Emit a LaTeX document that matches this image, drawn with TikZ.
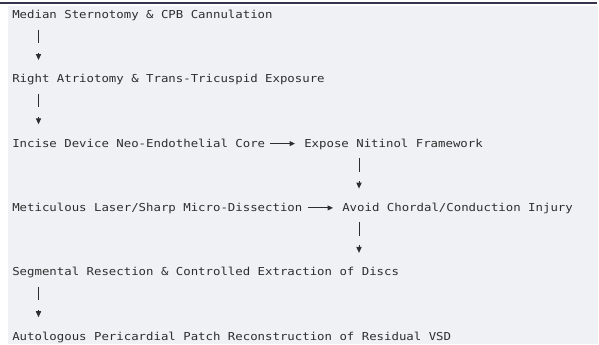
\documentclass[tikz,border=0pt]{standalone}
\usepackage{fontspec}
\usepackage{tikz}
\usetikzlibrary{arrows.meta,calc}
\newfontfamily\flowfont[FakeStretch=1.13]{DejaVu Sans Mono}
\definecolor{paper}{HTML}{F0F1F5}
\definecolor{rule}{HTML}{34344F}
\definecolor{txt}{HTML}{2E2E2E}
\tikzset{
  stp/.style   ={font=\flowfont\fontsize{8.2pt}{10pt}\selectfont, text=txt,
                 inner sep=0pt, text height=6pt, text depth=0.75pt,
                 anchor=base west},
  vflow/.style ={draw=txt, line width=0.75pt, shorten >=12.75pt,
                 postaction={draw=txt, shorten >=0pt, shorten <=17.25pt,
                 -{Triangle[length=4.5pt,width=3.9pt]}}},
  hflow/.style ={draw=txt, line width=0.75pt, shorten <=3.75pt, shorten >=6.75pt,
                 -{Triangle[length=4pt,width=3.6pt]}},
}

\begin{document}
\begin{tikzpicture}[x=0.75pt,y=-0.75pt]
\useasboundingbox (0,0) rectangle (599,344);

% ---- frame -----------------------------------------------------------
\fill[paper] (8,6) rectangle (598,344);
\draw[rule, line width=1.5pt] (0,3) -- (597,3);

% ---- steps -----------------------------------------------------------
\node[stp] (median) at (12,18.5)  {Median Sternotomy \& CPB Cannulation};
\node[stp] (atrio)  at (12,82.8)  {Right Atriotomy \& Trans-Tricuspid Exposure};
\node[stp] (incise) at (12,147.1) {Incise Device Neo-Endothelial Core};
\node[stp] (expose) at (304,147.1) {Expose Nitinol Framework};
\node[stp] (metic)  at (12,211.4) {Meticulous Laser/Sharp Micro-Dissection};
\node[stp] (avoid)  at (342,211.4) {Avoid Chordal/Conduction Injury};
\node[stp] (segm)   at (12,275.7) {Segmental Resection \& Controlled Extraction of Discs};
\node[stp] (patch)  at (12,340)   {Autologous Pericardial Patch Reconstruction of Residual VSD};

% ---- connectors ------------------------------------------------------
\draw[vflow] ($(median.base west)+(26.5,11)$) -- ($(atrio.base west)+(26.5,-22.8)$);
\draw[vflow] ($(atrio.base west)+(26.5,11)$) -- ($(incise.base west)+(26.5,-22.8)$);
\draw[hflow] (incise) -- (expose);
\draw[vflow] ($(expose.base west)+(55,11)$) -- ($(avoid.base west)+(17,-22.8)$);
\draw[hflow] (metic) -- (avoid);
\draw[vflow] ($(avoid.base west)+(17,11)$) -- ($(avoid.base west |- segm.base)+(17,-22.8)$);
\draw[vflow] ($(segm.base west)+(26.5,11)$) -- ($(patch.base west)+(26.5,-22.8)$);

\end{tikzpicture}
\end{document}
